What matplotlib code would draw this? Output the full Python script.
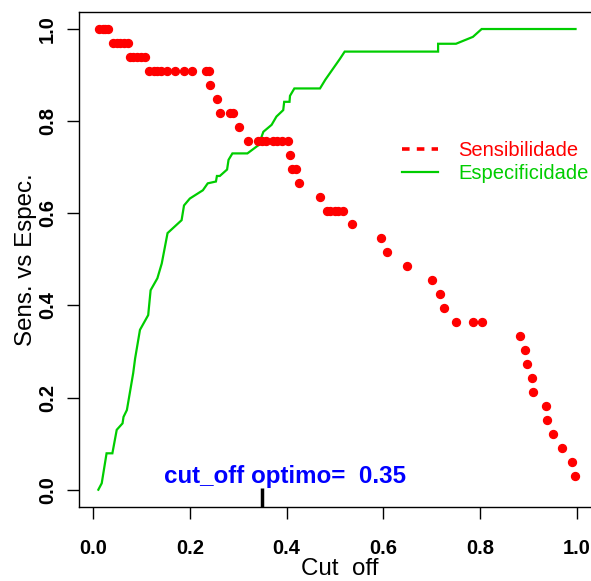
import matplotlib.pyplot as plt
from matplotlib.lines import Line2D

plt.rcParams['font.family'] = ['Liberation Sans', 'DejaVu Sans']

RED = "#ff0000"; GREEN = "#00cd00"; BLUE = "#0000ff"

# sensibilidade: cut-off values and sensitivity (k/33)
sens_x = [0.012, 0.02, 0.025, 0.031,
          0.041, 0.05, 0.056, 0.065, 0.072,
          0.076, 0.082, 0.09, 0.1, 0.107,
          0.115, 0.125, 0.133, 0.141, 0.153, 0.170, 0.187, 0.205, 0.233, 0.240,
          0.242, 0.256,
          0.262, 0.282, 0.290,
          0.302,
          0.321, 0.340, 0.349, 0.358, 0.371, 0.380, 0.390, 0.402,
          0.406, 0.411, 0.420, 0.426, 0.469,
          0.483, 0.490, 0.499, 0.507, 0.516,
          0.536, 0.596, 0.607, 0.649, 0.701, 0.716, 0.725,
          0.749, 0.786, 0.804,
          0.882, 0.893, 0.896, 0.907, 0.910, 0.935, 0.939, 0.951, 0.970, 0.990, 0.995]
sens_k = [33, 33, 33, 33,
          32, 32, 32, 32, 32,
          31, 31, 31, 31, 31,
          30, 30, 30, 30, 30, 30, 30, 30, 30, 30,
          29, 28,
          27, 27, 27,
          26,
          25, 25, 25, 25, 25, 25, 25, 25,
          24, 23, 23, 22, 21,
          20, 20, 20, 20, 20,
          19, 18, 17, 16, 15, 14, 13,
          12, 12, 12,
          11, 10, 9, 8, 7, 6, 5, 4, 3, 2, 1]
sens_y = [k / 33 for k in sens_k]

# especificidade
spec_x = [0.011, 0.018, 0.028, 0.040, 0.049, 0.061, 0.063, 0.070, 0.083, 0.087,
          0.097, 0.114, 0.119, 0.133, 0.142, 0.154, 0.183, 0.188, 0.200, 0.227,
          0.237, 0.254, 0.256, 0.262, 0.277, 0.280, 0.288, 0.319, 0.342, 0.352,
          0.369, 0.379, 0.393, 0.395, 0.406, 0.407, 0.416, 0.469, 0.480, 0.490,
          0.500, 0.510, 0.520, 0.593, 0.713, 0.713, 0.750, 0.785, 0.803, 0.997]
spec_y = [0.0, 0.014, 0.079, 0.079, 0.130, 0.144, 0.158, 0.173, 0.253, 0.285,
          0.347, 0.379, 0.433, 0.459, 0.491, 0.557, 0.585, 0.617, 0.632, 0.650,
          0.665, 0.669, 0.681, 0.681, 0.695, 0.716, 0.730, 0.730, 0.748, 0.777,
          0.792, 0.810, 0.824, 0.842, 0.842, 0.855, 0.871, 0.871, 0.890, 0.905,
          0.920, 0.935, 0.951, 0.951, 0.951, 0.968, 0.968, 0.983, 1.0, 1.0]

cut_opt = 0.35
xticks = [0.0, 0.2, 0.4, 0.6, 0.8, 1.0]
yticks = [0.0, 0.2, 0.4, 0.6, 0.8, 1.0]

W, H = 591, 581
fig = plt.figure(figsize=(W / 100, H / 100), dpi=100)
ax = fig.add_axes([78.5 / W, 1 - 506.7 / H, (601 - 78.5) / W, 495 / H])

ax.plot(spec_x, spec_y, color=GREEN, lw=1.6, solid_joinstyle="miter")
ax.plot(sens_x, sens_y, "o", color=RED, ms=5.7, mec=RED)

ax.set_xlim(-0.030, 1.0496)
ax.set_ylim(-0.0369, 1.0376)
ax.set_xticks(xticks, [f"{v:.1f}" for v in xticks])
ax.set_yticks(yticks, [f"{v:.1f}" for v in yticks])
for lab in ax.get_xticklabels() + ax.get_yticklabels():
    lab.set_fontweight("bold")
ax.tick_params(direction="out", length=8.3, width=1, labelsize=14.5)
ax.tick_params(axis="x", pad=15)
ax.tick_params(axis="y", labelrotation=90, pad=7)
for lab in ax.get_yticklabels():
    lab.set_va("center")
for s in ax.spines.values():
    s.set_linewidth(1)

ax.set_xlabel("Cut  off", fontsize=17.4, labelpad=0)
ax.set_ylabel("Sens. vs Espec.", fontsize=17.4, labelpad=1)

ax.plot([cut_opt, cut_opt], [-0.0369, 0.003], color="black", lw=2.5,
        solid_capstyle="butt", clip_on=False)
ax.text(0.396, 0.015, f"cut_off optimo=  {cut_opt}", color=BLUE, fontsize=17.4,
        fontweight="bold", ha="center", va="baseline")

handles = [Line2D([], [], color=RED, lw=2.6, linestyle=(0, (2.1, 2.0))),
           Line2D([], [], color=GREEN, lw=1.6)]
fig.legend(handles, ["Sensibilidade", "Especificidade"], loc="upper left",
           bbox_to_anchor=(401.7 / W, 1 - 141 / H), frameon=False,
           fontsize=14.5, handlelength=1.82, handletextpad=1.0,
           labelspacing=0.22, borderpad=0, borderaxespad=0,
           labelcolor=[RED, GREEN])

fig.savefig("out.png", dpi=100, facecolor="white")
